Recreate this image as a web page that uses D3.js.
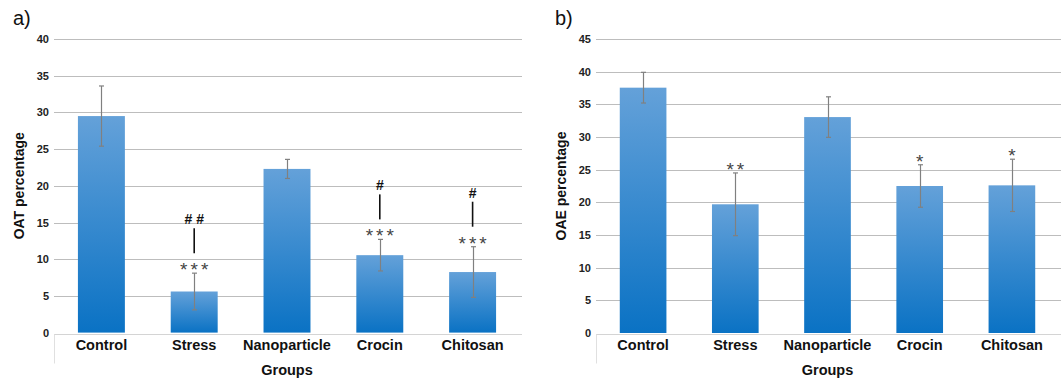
<!DOCTYPE html>
<html>
<head>
<meta charset="utf-8">
<script src="https://cdn.jsdelivr.net/npm/d3@7"></script>
<style>
  body { margin: 0; background: #fff; }
  svg { display: block; font-family: "Liberation Sans", Arial, sans-serif; }
</style>
</head>
<body>
<svg id="chart" width="1063" height="380"></svg>
<script>
"use strict";

// groups on the x axis (same for both panels)
const groups = ["Control", "Stress", "Nanoparticle", "Crocin", "Chitosan"];

// panel a) OAT percentage
const oatMeans  = [29.5, 5.6, 22.3, 10.55, 8.25];
const oatErrors = [4.1, 2.5, 1.3, 2.15, 3.45];
const oatStars  = ["", "***", "", "***", "***"];
const oatHashes = ["", "##", "", "#", "#"];
const oatTicks  = [0, 5, 10, 15, 20, 25, 30, 35, 40];

// panel b) OAE percentage
const oaeMeans  = [37.55, 19.7, 33.05, 22.5, 22.6];
const oaeErrors = [2.35, 4.8, 3.1, 3.25, 4.0];
const oaeStars  = ["", "**", "", "*", "*"];
const oaeHashes = ["", "", "", "", ""];
const oaeTicks  = [0, 5, 10, 15, 20, 25, 30, 35, 40, 45];

const svg = d3.select("#chart");

// Excel-like vertical gradient for the bars
const grad = svg.append("defs").append("linearGradient")
  .attr("id", "barGrad")
  .attr("x1", 0).attr("y1", 0).attr("x2", 0).attr("y2", 1);
grad.append("stop").attr("offset", "0%").attr("stop-color", "#64a1d9");
grad.append("stop").attr("offset", "100%").attr("stop-color", "#0a72c4");

function spaced(s) {
  return s.split("").join(" ");
}

function drawPanel(p) {
  const g = svg.append("g");

  const x = d3.scaleBand()
    .domain(groups)
    .range([p.x0, p.x1])
    .paddingInner(0.494)
    .paddingOuter(0.247);

  const y = d3.scaleLinear()
    .domain([0, d3.max(p.ticks)])
    .range([p.yBottom, p.yTop]);

  // panel letter
  g.append("text")
    .attr("x", p.x0 - 42)
    .attr("y", 25)
    .attr("font-size", 20)
    .attr("fill", "#111")
    .text(p.letter);

  // gridlines
  g.append("g").selectAll("line")
    .data(p.ticks.filter(t => t > 0))
    .enter()
    .append("line")
    .attr("x1", p.x0 - 1)
    .attr("x2", p.x1 + 3)
    .attr("y1", d => Math.round(y(d)) + 0.5)
    .attr("y2", d => Math.round(y(d)) + 0.5)
    .style("stroke", "#bdbdbd")
    .style("stroke-width", 1);

  // tick labels
  g.append("g").selectAll("text")
    .data(p.ticks)
    .enter()
    .append("text")
    .attr("x", p.x0 - 6)
    .attr("y", d => y(d) + 4)
    .attr("text-anchor", "end")
    .attr("font-size", 11)
    .attr("font-weight", "bold")
    .attr("fill", "#222")
    .text(d => d);

  // category axis frame
  const base = Math.round(y(0)) + 1.5;
  g.append("line")
    .attr("x1", p.x0 - 1).attr("x2", p.x1 + 3)
    .attr("y1", base).attr("y2", base)
    .style("stroke", "#d4d4d4");
  g.append("line")
    .attr("x1", p.x0 - 0.5).attr("x2", p.x0 - 0.5)
    .attr("y1", base).attr("y2", base + 29)
    .style("stroke", "#e0e0e0");

  const rows = groups.map((name, i) => ({
    name: name,
    mean: p.means[i],
    err: p.errors[i],
    star: p.stars[i],
    hash: p.hashes[i]
  }));

  // bars
  g.append("g").selectAll("rect")
    .data(rows)
    .enter()
    .append("rect")
    .attr("x", d => x(d.name))
    .attr("width", x.bandwidth())
    .attr("y", d => y(d.mean))
    .attr("height", d => y(0) - y(d.mean))
    .style("fill", "url(#barGrad)");

  // error bars
  const eb = g.append("g").selectAll("g")
    .data(rows)
    .enter()
    .append("g")
    .attr("transform", d => `translate(${Math.round(x(d.name) + x.bandwidth() / 2) + 0.5},0)`)
    .style("stroke", "#808080")
    .style("stroke-width", 1.2);
  eb.append("line")
    .attr("y1", d => y(d.mean + d.err))
    .attr("y2", d => y(d.mean - d.err));
  eb.append("line")
    .attr("x1", -2.5).attr("x2", 2.5)
    .attr("y1", d => y(d.mean + d.err))
    .attr("y2", d => y(d.mean + d.err));
  eb.append("line")
    .attr("x1", -2.5).attr("x2", 2.5)
    .attr("y1", d => y(d.mean - d.err))
    .attr("y2", d => y(d.mean - d.err));

  // significance marks
  const ann = g.append("g").selectAll("g")
    .data(rows.filter(d => d.star))
    .enter()
    .append("g")
    .attr("transform", d => `translate(${x(d.name) + x.bandwidth() / 2},${y(d.mean + d.err) - 8})`);
  ann.append("text")
    .attr("x", 1.5)
    .attr("y", 11)
    .attr("text-anchor", "middle")
    .attr("font-size", 19)
    .attr("letter-spacing", 3)
    .attr("fill", "#444")
    .text(d => d.star);
  const withHash = ann.filter(d => d.hash);
  withHash.append("line")
    .attr("y1", -12).attr("y2", -37)
    .style("stroke", "#111")
    .style("stroke-width", 1.6);
  withHash.append("text")
    .attr("y", -41)
    .attr("text-anchor", "middle")
    .attr("font-size", 14)
    .attr("font-weight", "bold")
    .attr("fill", "#111")
    .text(d => spaced(d.hash));

  // category labels
  g.append("g").selectAll("text")
    .data(groups)
    .enter()
    .append("text")
    .attr("x", d => x(d) + x.bandwidth() / 2)
    .attr("y", 350)
    .attr("text-anchor", "middle")
    .attr("font-size", 14.5)
    .attr("font-weight", "bold")
    .attr("fill", "#111")
    .text(d => d);

  // axis titles
  g.append("text")
    .attr("x", (p.x0 + p.x1) / 2)
    .attr("y", 375)
    .attr("text-anchor", "middle")
    .attr("font-size", 14.5)
    .attr("font-weight", "bold")
    .attr("fill", "#111")
    .text("Groups");

  g.append("text")
    .attr("transform", `translate(${p.x0 - 31},${(p.yTop + p.yBottom) / 2}) rotate(-90)`)
    .attr("text-anchor", "middle")
    .attr("font-size", 14)
    .attr("font-weight", "bold")
    .attr("fill", "#111")
    .text(p.title);
}

drawPanel({
  letter: "a)", title: "OAT percentage",
  means: oatMeans, errors: oatErrors, stars: oatStars, hashes: oatHashes, ticks: oatTicks,
  x0: 55, x1: 519, yTop: 39, yBottom: 332.6
});

drawPanel({
  letter: "b)", title: "OAE percentage",
  means: oaeMeans, errors: oaeErrors, stars: oaeStars, hashes: oaeHashes, ticks: oaeTicks,
  x0: 597, x1: 1058, yTop: 39, yBottom: 333
});
</script>
</body>
</html>
